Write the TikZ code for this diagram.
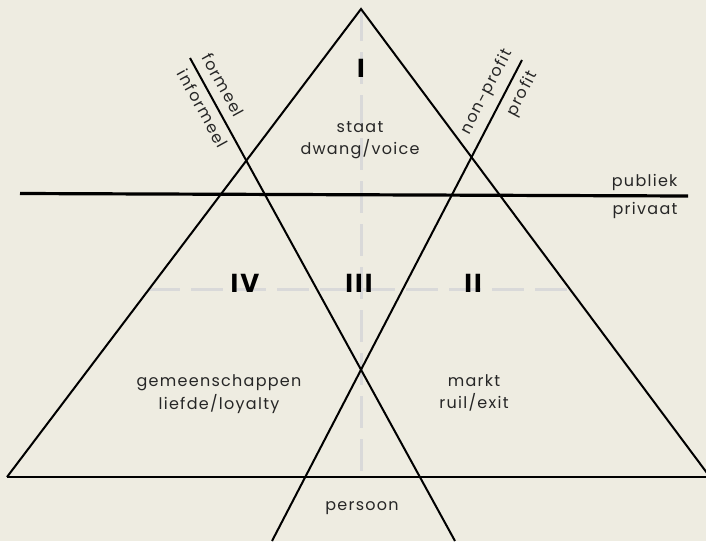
\documentclass[tikz,border=0pt]{standalone}
\usepackage{fontspec}
\setmainfont{Poppins}[LetterSpace=8]
\definecolor{paper}{HTML}{EEECE1}
\definecolor{guidegray}{HTML}{D9D9D9}
\definecolor{ink}{HTML}{262626}

\begin{document}
\begin{tikzpicture}[
    x=1pt, y=-1pt,
    side/.style={draw=black, line width=2pt},
    divider/.style={draw=black, line width=3.2pt},
    quadrant/.style={draw=guidegray, line width=3pt, dash pattern=on 32pt off 11pt},
    caption/.style={font=\fontsize{16}{22.5}\selectfont, text=ink, align=center},
    numeral/.style={font=\fontsize{26}{26}\selectfont\bfseries, text=black},
    linetag/.style={font=\fontsize{16}{16}\selectfont, text=ink, sloped, inner sep=1pt}
]
\fill[paper] (0,0) rectangle (706,541);
\useasboundingbox (0,0) rectangle (706,541);

% corners of the big triangle
\coordinate (apex) at (361,9);
\coordinate (baseL) at (7,477);
\coordinate (baseR) at (710,477);
\coordinate (baseEnd) at (706,477);

% quadrant guides
\coordinate (vTop) at (361,9);
\coordinate (vBot) at (361,477);
\coordinate (hL) at (148,289);
\coordinate (hR) at (571,289);
\draw[quadrant] (vTop) -- (vBot);
\draw[quadrant] (hL) -- (hR);

% public / private divider
\coordinate (pubL) at (20,193.5);
\coordinate (pubR) at (688,196);
\draw[divider] (pubL) -- (pubR);

% the big triangle
\draw[side] (baseL) -- (apex) -- (baseR);
\draw[side, line width=2.4pt] (baseL) -- (baseEnd);

% formal / informal line
\coordinate (formTop) at (190,58);
\coordinate (formBot) at (455,541);
\draw[side] (formTop) -- (formBot)
    node[linetag, pos=0.072, above=8pt] (formeel) {formeel}
    node[linetag, pos=0.092, below=5pt] (informeel) {informeel};

% profit / non-profit line
\coordinate (profBot) at (272,541);
\coordinate (profTop) at (522,60);
\draw[side] (profBot) -- (profTop)
    node[linetag, pos=0.918, above=6pt] (nonprofit) {non-profit}
    node[linetag, pos=0.945, below=6pt] (profit) {profit};

% sector labels
\node[caption] (staat) at (360,140) {staat\\dwang/voice};
\node[caption] (gemeen) at (219,394) {gemeenschappen\\liefde/loyalty};
\node[caption] (markt) at (474,393) {markt\\ruil/exit};
\node[caption] (persoon) at (362,508) {persoon};
\node[caption, anchor=base east] (publiek) at (681,186) {publiek};
\node[caption, anchor=base east] (privaat) at (681,214) {privaat};

% numerals
\node[numeral] (nI) at (361,68) {I};
\node[numeral] (nII) at (473,283) {II};
\node[numeral] (nIII) at (359,283) {III};
\node[numeral] (nIV) at (245,283) {IV};
\end{tikzpicture}
\end{document}
